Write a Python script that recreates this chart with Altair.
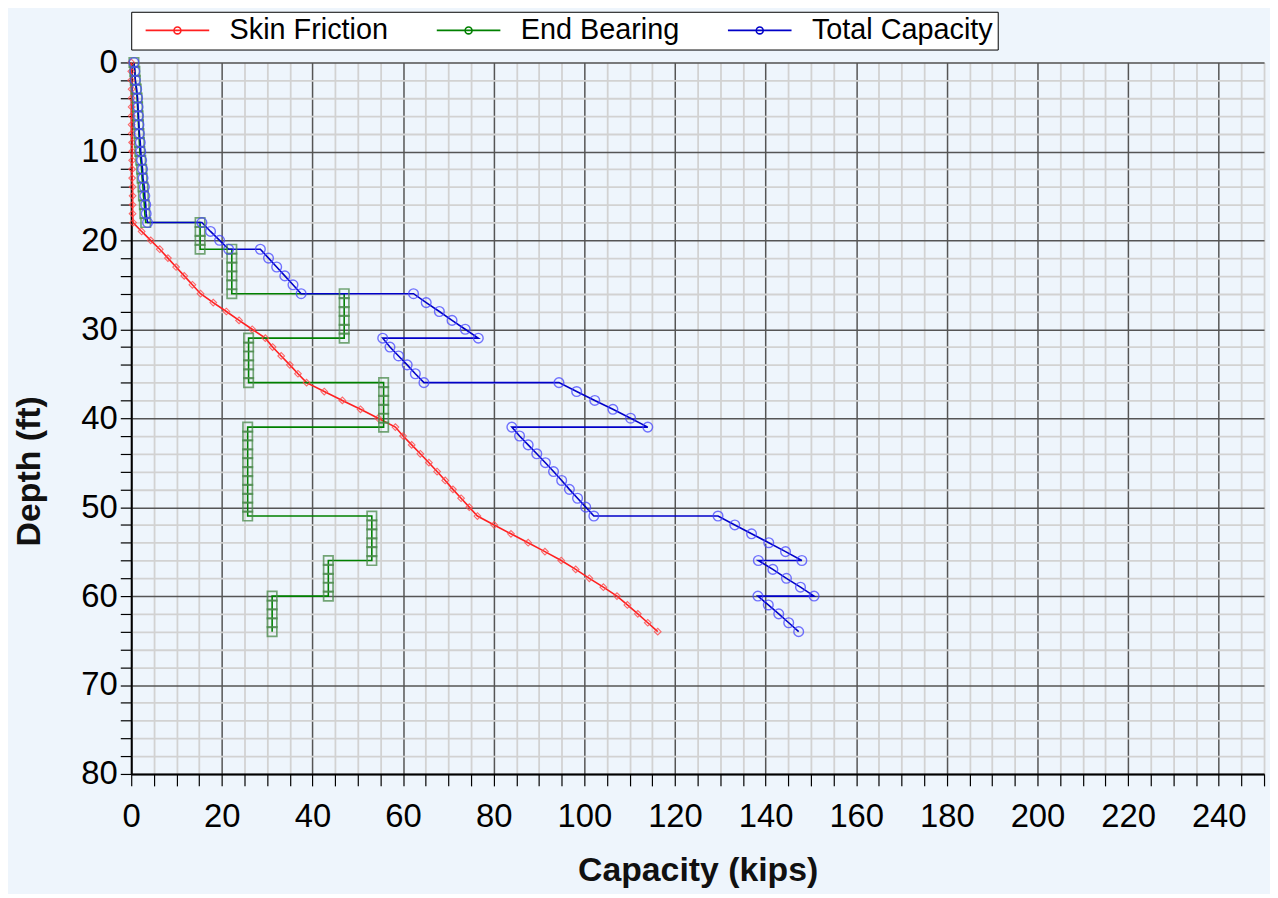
import altair as alt
import pandas as pd

# ---- data ----
series_names = ["Skin Friction", "End Bearing", "Total Capacity"]
series_colors = ["#ff2020", "#008000", "#0000c8"]

skin_depth = list(range(0, 65))
skin_kips = [0.0, 0.0, 0.0, 0.1, 0.1, 0.1, 0.1, 0.1, 0.1, 0.2,
             0.2, 0.2, 0.2, 0.2, 0.3, 0.3, 0.3, 0.3, 0.4, 2.3,
             4.3, 6.3, 8.1, 9.9, 11.7, 13.5, 15.3, 18.1, 21.0, 23.8,
             26.7, 29.6, 31.2, 33.1, 35.0, 36.8, 38.7, 42.6, 46.6, 50.6,
             54.5, 58.3, 60.0, 61.9, 63.8, 65.7, 67.5, 69.3, 71.0, 72.8,
             74.6, 76.4, 80.1, 83.8, 87.6, 91.3, 94.9, 98.1, 101.1, 104.2,
             107.2, 109.5, 111.8, 114.0, 116.2]

cap_depth = [0, 1, 2, 3, 4, 5, 6, 7, 8, 9, 10, 11, 12, 13, 14, 15, 16, 17, 18,
             18, 19, 20, 21,
             21, 22, 23, 24, 25, 26,
             26, 27, 28, 29, 30, 31,
             31, 32, 33, 34, 35, 36,
             36, 37, 38, 39, 40, 41,
             41, 42, 43, 44, 45, 46, 47, 48, 49, 50, 51,
             51, 52, 53, 54, 55, 56,
             56, 57, 58, 59, 60,
             60, 61, 62, 63, 64]

end_bearing_kips = [0.6, 0.8, 0.9, 1.1, 1.3, 1.4, 1.5, 1.6, 1.7, 1.8, 1.9, 2.1, 2.3, 2.4, 2.6, 2.7, 2.9, 3.0, 3.2,
                    15.2, 15.2, 15.2, 15.2,
                    22.2, 22.2, 22.2, 22.2, 22.2, 22.2,
                    47.0, 47.0, 47.0, 47.0, 47.0, 47.0,
                    25.9, 25.9, 25.9, 25.9, 25.9, 25.9,
                    55.7, 55.7, 55.7, 55.7, 55.7, 55.7,
                    25.7, 25.7, 25.7, 25.7, 25.7, 25.7, 25.7, 25.7, 25.7, 25.7, 25.7,
                    53.1, 53.1, 53.1, 53.1, 53.1, 53.1,
                    43.5, 43.5, 43.5, 43.5, 43.5,
                    31.1, 31.1, 31.1, 31.1, 31.1]

total_kips = [0.6, 0.8, 0.9, 1.2, 1.4, 1.5, 1.6, 1.7, 1.8, 2.0, 2.1, 2.3, 2.5, 2.6, 2.9, 3.0, 3.2, 3.3, 3.6,
              15.6, 17.5, 19.5, 21.5,
              28.5, 30.3, 32.1, 33.9, 35.7, 37.5,
              62.3, 65.1, 68.0, 70.8, 73.7, 76.6,
              55.5, 57.1, 59.0, 60.9, 62.7, 64.6,
              94.4, 98.3, 102.3, 106.3, 110.2, 114.0,
              84.0, 85.7, 87.6, 89.5, 91.4, 93.2, 95.0, 96.7, 98.5, 100.3, 102.1,
              129.5, 133.2, 136.9, 140.7, 144.4, 148.0,
              138.4, 141.6, 144.6, 147.7, 150.7,
              138.3, 140.6, 142.9, 145.1, 147.3]

x_values = list(range(0, 251, 5))
y_values = list(range(0, 81, 2))

# ---- table ----
rows = []
for i, (d, v) in enumerate(zip(skin_depth, skin_kips)):
    rows.append({"series": series_names[0], "depth": d, "kips": v, "order": i})
for i, (d, v) in enumerate(zip(cap_depth, end_bearing_kips)):
    rows.append({"series": series_names[1], "depth": d, "kips": v, "order": i})
for i, (d, v) in enumerate(zip(cap_depth, total_kips)):
    rows.append({"series": series_names[2], "depth": d, "kips": v, "order": i})
df = pd.DataFrame(rows)

FONT = "Liberation Sans"

x_scale = alt.Scale(domain=[0, 250], nice=False, zero=False)
y_scale = alt.Scale(domain=[0, 80], reverse=True, nice=False, zero=False)

x_axis = alt.Axis(
    values=x_values,
    labelExpr="datum.value % 20 === 0 && datum.value <= 240 ? datum.label : ''",
    labelFontSize=33, labelColor="black", labelPadding=15, labelFlush=False,
    tickSize=12, tickColor="black", tickWidth=1.2,
    domainColor="black", domainWidth=2,
    grid=True,
    gridColor={"condition": {"test": "datum.value % 20 === 0", "value": "#555555"}, "value": "#d2d2d2"},
    gridWidth={"condition": {"test": "datum.value % 20 === 0", "value": 1.5}, "value": 1.8},
    gridOpacity=1,
    titleFontSize=34, titleFontWeight="bold", titleColor="#111", titlePadding=20,
)
y_axis = alt.Axis(
    values=y_values,
    labelExpr="datum.value % 10 === 0 ? datum.label : ''",
    labelFontSize=33, labelColor="black", labelPadding=3, labelFlush=False,
    tickSize=11, tickColor="black", tickWidth=1.2,
    domainColor="black", domainWidth=2,
    grid=True,
    gridColor={"condition": {"test": "datum.value % 10 === 0", "value": "#555555"}, "value": "#d2d2d2"},
    gridWidth={"condition": {"test": "datum.value % 10 === 0", "value": 1.5}, "value": 1.8},
    gridOpacity=1,
    titleFontSize=34, titleFontWeight="bold", titleColor="#111",
    titleAngle=270, titleX=-102, titleY=411, titleAlign="center", titleBaseline="middle",
)

X = alt.X("kips:Q", scale=x_scale, axis=x_axis, title="Capacity (kips)")
Y = alt.Y("depth:Q", scale=y_scale, axis=y_axis, title="Depth (ft)")

# legend symbol: a line with a small hollow marker in its middle
legend_path = "M-1,0H5.4M1.85,0A0.35,0.35,0,1,0,2.55,0A0.35,0.35,0,1,0,1.85,0Z"

base = alt.Chart(df)

lines = base.mark_line(strokeWidth=1.6).encode(
    x=X, y=Y,
    color=alt.Color(
        "series:N",
        scale=alt.Scale(domain=series_names, range=series_colors),
        legend=alt.Legend(
            title=None, orient="none", legendX=0, legendY=-51,
            direction="horizontal", symbolType=legend_path, symbolSize=400,
            symbolStrokeWidth=1.6, symbolFillColor="transparent",
            labelFontSize=29, labelColor="black", labelLimit=500,
            labelOffset=60, columnPadding=38, padding=4, symbolOffset=6,
            strokeColor="black", fillColor="white",
        ),
    ),
    order="order:Q",
)

red_pts = base.transform_filter(alt.datum.series == series_names[0]).mark_point(
    shape="diamond", size=45, filled=False, color="#ff4848", opacity=0.8, strokeWidth=1.1
).encode(x=X, y=Y)

green_pts = base.transform_filter(alt.datum.series == series_names[1]).mark_point(
    shape="square", size=90, filled=False, color="#4a8a4a", opacity=0.75, strokeWidth=1.7
).encode(x=X, y=Y)

blue_pts = base.transform_filter(alt.datum.series == series_names[2]).mark_point(
    shape="circle", size=95, filled=False, color="#4646ff", opacity=0.75, strokeWidth=1.4
).encode(x=X, y=Y)

chart = alt.layer(lines, red_pts, green_pts, blue_pts).properties(
    width=1140, height=716,
    background="#EEF5FC",
    padding={"left": 124, "top": 52, "right": 6, "bottom": 118},
    autosize=alt.AutoSizeParams(type="none"),
).configure_view(
    fill="white", stroke="#333333", strokeWidth=1.5
).configure(font=FONT)

chart.save("out.html", embed_options={"renderer": "svg", "actions": False})
